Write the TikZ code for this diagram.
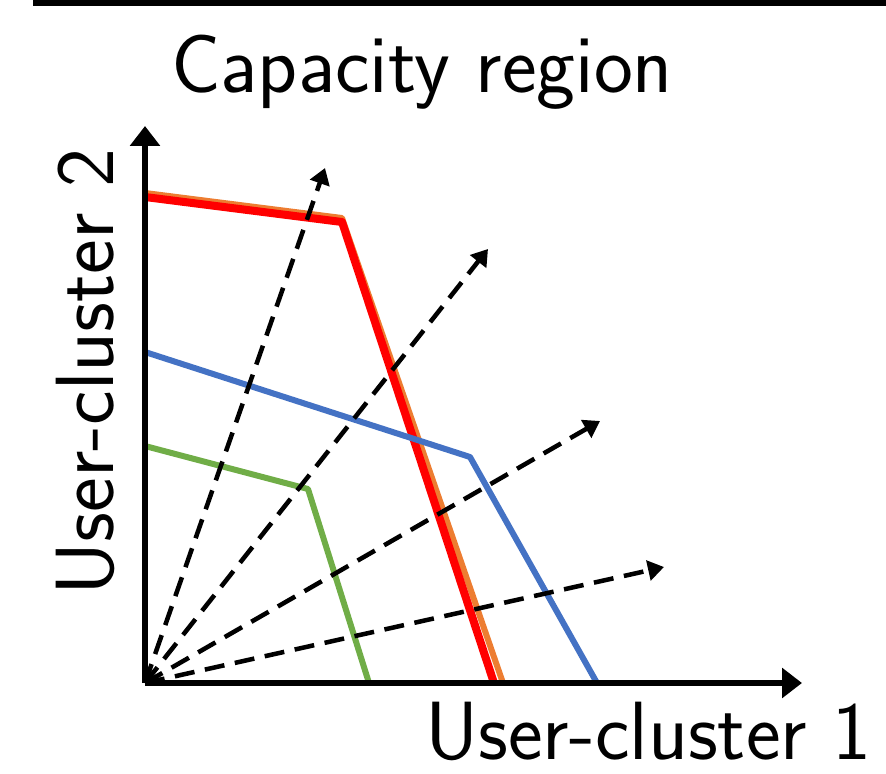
\documentclass[tikz,border=0pt]{standalone}
\usetikzlibrary{arrows.meta}
\begin{document}
\begin{tikzpicture}[x=0.75pt, y=-0.75pt, font=\sffamily, line join=round]
	\definecolor{corange}{HTML}{ED7D31}
	\definecolor{cblue}{HTML}{4472C4}
	\definecolor{cgreen}{HTML}{70AD47}
	\tikzset{axis/.style={line width=5pt, -{Triangle[length=15pt, width=22pt]}}, ray/.style={line width=3.4pt, dash pattern=on 15pt off 8pt, -{Triangle[length=12pt, width=15pt]}}, bound/.style={line width=4.5pt}, lab/.style={font=\sffamily\fontsize{62}{70}\selectfont, inner sep=0pt}}
	\useasboundingbox (0,0) rectangle (886,774);
	\fill (33,0) rectangle (886,6);
	\path
	(145,683) coordinate (O)
	(145,126) coordinate (Y)
	(802,683) coordinate (X);
	% boundaries
	\draw[bound, corange] (145,193)--(342,218)--(503,683);
	\draw[bound, red, line width=6pt] (145,197)--(342,222)--(494,683);
	\draw[bound, cblue] (145,352)--(470,457)--(597,683);
	\draw[bound, cgreen] (145,446)--(308,489)--(369,683);
	% directions
	\foreach \p/\n in {{(325,168)}/a,{(488,249)}/b,{(600,421)}/c,{(664,567)}/d}
	\path \p coordinate (\n);
	\foreach \n in {a,b,c,d}
	\draw[ray] (O)--(\n);
	\draw[axis] (O)--(Y);
	\draw[axis] (O)--(X);
	\node[lab] (title) at (422,72) {Capacity region};
	\node[lab, rotate=90] (ylab) at (85,372) {User-cluster 2};
	\node[lab, anchor=east] (xlab) at (872,731) {User-cluster 1};
\end{tikzpicture}
\end{document}
